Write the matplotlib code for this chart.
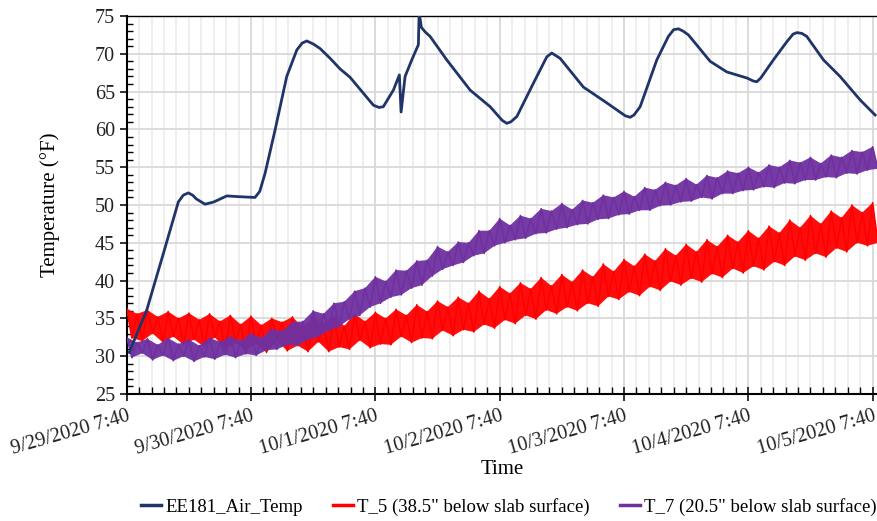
import numpy as np
import matplotlib.pyplot as plt
from matplotlib.ticker import MultipleLocator

# x values are days after 9/29/2020 7:40
tick_labels = ["9/29/2020 7:40", "9/30/2020 7:40", "10/1/2020 7:40", "10/2/2020 7:40",
               "10/3/2020 7:40", "10/4/2020 7:40", "10/5/2020 7:40"]

air_days = [0.02, 0.161, 0.295, 0.415, 0.455, 0.496, 0.53, 0.56, 0.63, 0.70, 0.805,
            0.90, 1.032, 1.07, 1.113, 1.193, 1.287, 1.368, 1.41, 1.448, 1.50, 1.555,
            1.636, 1.716, 1.796, 1.984, 2.03, 2.064, 2.145, 2.193, 2.207, 2.239, 2.293,
            2.346, 2.352, 2.37, 2.40, 2.44, 2.574, 2.762, 2.923, 3.02, 3.057, 3.09,
            3.138, 3.271, 3.379, 3.419, 3.486, 3.673, 3.862, 4.01, 4.049, 4.08, 4.13,
            4.264, 4.357, 4.40, 4.438, 4.475, 4.518, 4.693, 4.827, 4.988, 5.04, 5.068,
            5.10, 5.202, 5.31, 5.36, 5.39, 5.43, 5.47, 5.604, 5.738, 5.899, 6.02]
air_temp = [30.5, 36.1, 43.6, 50.4, 51.3, 51.6, 51.3, 50.8, 50.1, 50.4, 51.2,
            51.1, 51.0, 51.8, 54.2, 59.9, 67.0, 70.5, 71.4, 71.7, 71.3, 70.7,
            69.4, 68.0, 66.9, 63.2, 62.9, 63.0, 65.2, 67.2, 62.3, 67.0, 69.2,
            71.2, 75.5, 73.5, 72.9, 72.3, 69.2, 65.2, 63.0, 61.2, 60.8, 61.0,
            61.7, 66.1, 69.6, 70.1, 69.4, 65.6, 63.5, 61.8, 61.6, 61.9, 63.0,
            69.2, 72.3, 73.2, 73.3, 73.0, 72.5, 69.0, 67.6, 66.8, 66.4, 66.3,
            66.8, 69.2, 71.6, 72.6, 72.8, 72.7, 72.3, 69.2, 67.0, 63.9, 61.9]

# hourly readings, starting at 9/29/2020 7:40
t5_temp = [36.3, 32.4, 35.6, 32.0, 36.1, 33.0, 35.2, 31.8, 35.9, 32.6, 35.0, 31.5,
           35.7, 32.2, 34.8, 31.2, 35.6, 32.5, 34.6, 30.9, 35.4, 31.8, 34.2, 30.8,
           35.3, 31.6, 34.1, 30.5, 35.0, 32.0, 34.5, 30.7, 35.2, 31.4, 33.8, 30.6,
           35.1, 31.9, 34.3, 30.6, 35.3, 31.2, 34.0, 30.9, 35.6, 32.1, 34.6, 31.1,
           35.8, 31.6, 35.0, 31.5, 36.2, 32.6, 35.4, 31.8, 36.8, 32.4, 35.9, 32.3,
           37.3, 33.4, 36.5, 32.7, 37.8, 33.5, 37.0, 33.2, 38.6, 34.2, 37.6, 33.7,
           39.2, 34.8, 38.3, 34.3, 39.7, 35.4, 38.9, 34.9, 40.4, 36.1, 39.3, 35.6,
           40.8, 36.5, 39.8, 36.0, 41.4, 37.0, 40.5, 36.6, 42.2, 37.9, 41.2, 37.5,
           42.8, 38.5, 41.9, 38.0, 43.5, 39.2, 42.6, 38.7, 44.2, 39.9, 43.3, 39.4,
           44.8, 40.3, 43.8, 39.8, 45.4, 40.9, 44.5, 40.4, 46.0, 41.6, 45.1, 41.0,
           46.6, 41.9, 45.6, 41.4, 47.2, 42.5, 46.3, 42.0, 48.0, 43.2, 47.0, 42.7,
           48.6, 43.6, 47.5, 43.1, 49.2, 44.3, 48.3, 43.8, 50.0, 45.0, 49.0, 44.6,
           50.3, 45.0]
t7_temp = [32.5, 29.8, 31.8, 30.4, 32.3, 29.5, 31.5, 30.1, 32.4, 29.4, 31.6, 30.0,
           32.2, 29.3, 31.4, 29.9, 32.4, 29.6, 31.9, 30.2, 32.6, 29.8, 32.0, 30.3,
           33.0, 30.1, 32.4, 30.8, 33.6, 30.9, 33.3, 31.5, 34.5, 31.4, 34.6, 32.2,
           36.0, 32.6, 35.6, 33.4, 37.0, 33.9, 37.2, 34.9, 38.6, 35.4, 39.0, 36.5,
           40.5, 37.0, 39.9, 37.8, 41.4, 38.1, 41.3, 39.0, 42.6, 39.4, 42.7, 40.6,
           44.5, 41.5, 43.8, 42.0, 45.1, 42.4, 45.0, 43.3, 46.6, 43.6, 46.6, 44.6,
           48.2, 45.0, 47.3, 45.4, 48.6, 45.6, 48.2, 46.2, 49.5, 46.3, 49.2, 46.8,
           50.2, 47.0, 49.4, 47.4, 50.6, 47.5, 50.3, 48.1, 51.3, 48.2, 51.0, 48.7,
           51.8, 48.8, 51.1, 49.3, 52.3, 49.3, 52.0, 49.9, 53.0, 50.0, 52.6, 50.4,
           53.5, 50.5, 52.7, 51.0, 53.9, 50.8, 53.6, 51.5, 54.5, 51.5, 54.2, 51.9,
           55.0, 52.0, 54.3, 52.4, 55.3, 52.3, 55.0, 52.9, 55.9, 52.8, 55.6, 53.3,
           56.3, 53.3, 55.5, 53.7, 56.6, 53.6, 56.3, 54.2, 57.2, 54.1, 57.0, 54.6,
           57.7, 54.8]
hours = np.arange(len(t5_temp)) / 24.0

plt.rcParams["font.family"] = ["Liberation Serif", "DejaVu Serif"]

fig = plt.figure(figsize=(8.77, 5.21), dpi=100)
ax = fig.add_axes([0.1445, 0.2438, 0.8555, 0.7255])


def noisy_band(y, color, z, label):
    # the sensor flips between a high and a low reading every sample:
    # fill the band they span and draw the trace itself on top
    y = np.asarray(y)
    hi_t, hi_v = hours[0::2], y[0::2]
    lo_t, lo_v = hours[1::2], y[1::2]
    ax.fill(np.concatenate([hi_t, lo_t[::-1]]), np.concatenate([hi_v, lo_v[::-1]]),
            color=color, lw=0, zorder=z, alpha=0.95)
    ax.plot(hours, y, color=color, lw=1.2, zorder=z, label=label)


noisy_band(t5_temp, "#FF0000", 3, 'T_5 (38.5" below slab surface)')
noisy_band(t7_temp, "#7030A0", 4, 'T_7 (20.5" below slab surface)')
ax.plot(air_days, air_temp, color="#1F3468", lw=2.0, zorder=5,
        label="EE181_Air_Temp")

ax.set_xlim(0, 6.035)
ax.set_ylim(25, 75)
ax.xaxis.set_minor_locator(MultipleLocator(0.1))
ax.yaxis.set_major_locator(MultipleLocator(5))
ax.yaxis.set_minor_locator(MultipleLocator(1))
ax.set_xticks(range(len(tick_labels)))
ax.set_xticklabels(tick_labels, rotation=16, ha="right", rotation_mode="anchor")

ax.grid(True, which="major", color="#D9D9D9", lw=1.3)
ax.grid(True, which="minor", axis="x", color="#EBEBEB", lw=1.1)
ax.set_axisbelow(True)

ax.tick_params(axis="x", which="major", direction="inout", length=10, width=1.3,
               labelsize=14.5, pad=4, colors="#222222")
ax.tick_params(axis="x", which="minor", direction="in", length=5, width=1.0)
ax.tick_params(axis="y", which="major", direction="out", length=5, width=1.3,
               labelsize=14.5, colors="#222222")
ax.tick_params(axis="y", which="minor", direction="in", length=4, width=1.0)
for s in ["left", "bottom"]:
    ax.spines[s].set_linewidth(1.5)
ax.spines["top"].set_linewidth(1.0)
ax.spines["right"].set_visible(False)

ax.set_ylabel("Temperature (°F)", fontsize=15, labelpad=25)
ax.set_xlabel("Time", fontsize=15, labelpad=1)

handles, labels = ax.get_legend_handles_labels()
order = [2, 0, 1]
fig.legend([handles[i] for i in order], [labels[i] for i in order],
           loc="lower center", bbox_to_anchor=(0.58, -0.022), ncol=3,
           frameon=False, fontsize=13.5, handlelength=1.1, handletextpad=0.2,
           columnspacing=1.6)
for h in fig.legends[0].get_lines():
    h.set_linewidth(2.5)

fig.savefig("out.png", dpi=100)
